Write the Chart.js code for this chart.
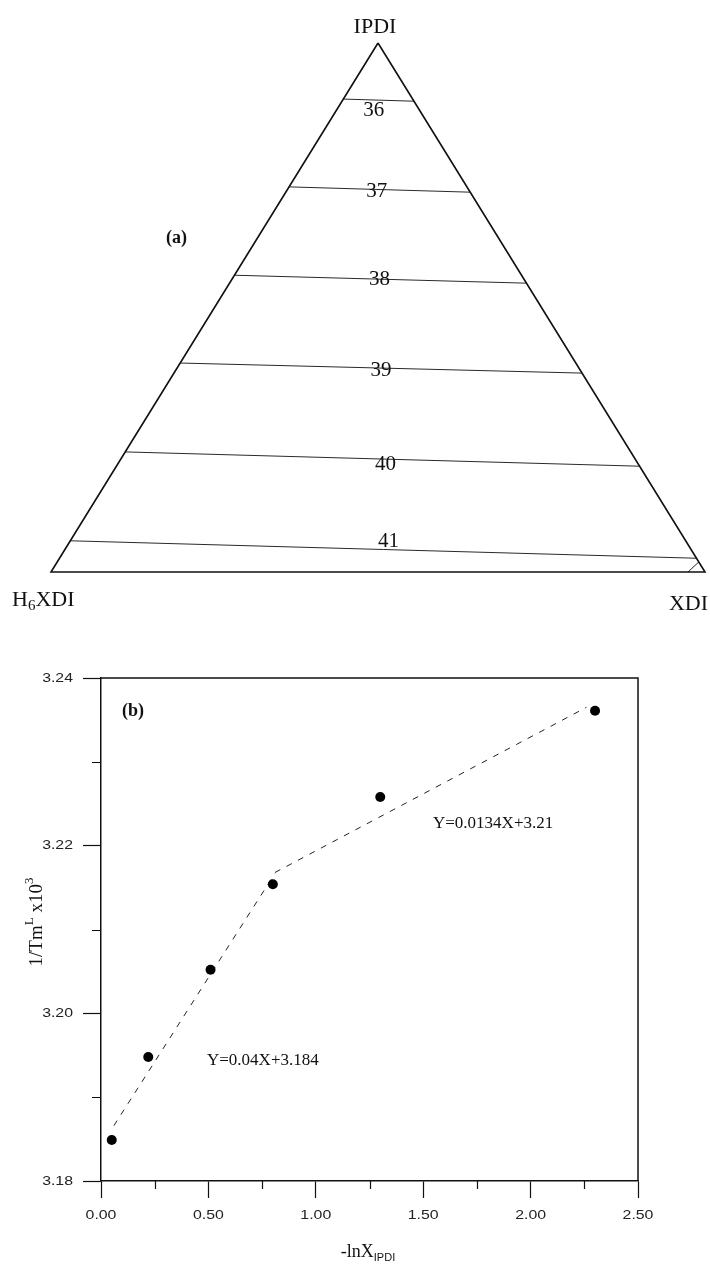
<!DOCTYPE html>
<html>
<head>
<meta charset="utf-8">
<script src="https://cdn.jsdelivr.net/npm/chart.js@4.4.0/dist/chart.umd.min.js"></script>
<style>
  html, body { margin: 0; padding: 0; background: #fff; }
  #wrap { position: relative; width: 710px; height: 1264px; overflow: hidden; }
  #ternary { position: absolute; left: 0; top: 0; }
  #fit { position: absolute; left: 0; top: 640px; }
</style>
</head>
<body>
<div id="wrap">
  <canvas id="ternary" width="710" height="640"></canvas>
  <canvas id="fit" width="710" height="624"></canvas>
</div>
<script>
// (a) isotherms in the ternary plot: IPDI fraction where each line meets
// the H6XDI-IPDI edge (left) and the IPDI-XDI edge (right)
const isoTemps = [36, 37, 38, 39, 40, 41];
const isoIpdiLeft = [0.894, 0.728, 0.561, 0.395, 0.227, 0.059];
const isoIpdiRight = [0.890, 0.718, 0.546, 0.376, 0.200, 0.026];
// small unlabeled piece in the XDI corner
const cornerXdi = 0.974;
const cornerIpdi = 0.019;

// (b) 1/Tm x10^3 against -ln X(IPDI)
const lnX = [0.05, 0.22, 0.51, 0.80, 1.30, 2.30];
const invTm = [3.1849, 3.1948, 3.2052, 3.2154, 3.2258, 3.2361];
const fit1X = [0.06, 0.81];
const fit1Y = [3.1866, 3.2167];
const fit2X = [0.81, 2.26];
const fit2Y = [3.2168, 3.2365];
const fit1Text = 'Y=0.04X+3.184';
const fit2Text = 'Y=0.0134X+3.21';
const xTicks = [0, 0.5, 1, 1.5, 2, 2.5];
const xMinor = [0.25, 0.75, 1.25, 1.75, 2.25];
const yTicks = [3.18, 3.20, 3.22, 3.24];
const yMinor = [3.19, 3.21, 3.23];

const SERIF = '"Liberation Serif", "DejaVu Serif", serif';
const SANS = '"Liberation Sans", Arial, sans-serif';
const INK = '#111';

// IPDI at the apex, H6XDI bottom left, XDI bottom right
function tern(ipdi, xdi) {
  return { x: xdi + ipdi / 2, y: ipdi };
}

// draws a row of text pieces (for sub/superscripts), runs = [text, font, dy]
function drawRuns(ctx, runs, x, y, align) {
  let total = 0;
  const widths = runs.map((r) => {
    ctx.font = r[1];
    const w = ctx.measureText(r[0]).width;
    total += w;
    return w;
  });
  let cx = align === 'center' ? x - total / 2 : (align === 'right' ? x - total : x);
  ctx.textAlign = 'left';
  ctx.textBaseline = 'alphabetic';
  runs.forEach((r, i) => {
    ctx.font = r[1];
    ctx.fillText(r[0], cx, y + r[2]);
    cx += widths[i];
  });
}

// the scanned tick labels are wide and flat, so stretch them sideways
function wideText(ctx, text, x, y, align) {
  const k = 1.22;
  ctx.save();
  ctx.translate(x, y);
  ctx.scale(k, 1);
  ctx.textAlign = align;
  ctx.fillText(text, 0, 0);
  ctx.restore();
}

// ---------- (a) ternary ----------
const triangle = [tern(1, 0), tern(0, 0), tern(0, 1), tern(1, 0)];

const isoDatasets = isoTemps.map((t, i) => ({
  label: String(t),
  data: [tern(isoIpdiLeft[i], 0), tern(isoIpdiRight[i], 1 - isoIpdiRight[i])],
  borderColor: '#2a2a2a',
  borderWidth: 1,
  showLine: true,
  pointRadius: 0,
  clip: false
}));

// label nudges in px, so the numbers sit on the lines as printed
const isoLabelDx = [-5, -3, -1, 0, 3, 5];
const isoLabelDy = [10, 2, 0, 2, 5, -8];

const ternaryLabels = {
  id: 'ternaryLabels',
  afterDraw(chart) {
    const ctx = chart.ctx;
    const xs = chart.scales.x;
    const ys = chart.scales.y;
    ctx.save();
    ctx.fillStyle = INK;

    isoTemps.forEach((t, i) => {
      const a = tern(isoIpdiLeft[i], 0);
      const b = tern(isoIpdiRight[i], 1 - isoIpdiRight[i]);
      const px = (xs.getPixelForValue(a.x) + xs.getPixelForValue(b.x)) / 2;
      const py = (ys.getPixelForValue(a.y) + ys.getPixelForValue(b.y)) / 2;
      ctx.font = `21px ${SERIF}`;
      ctx.textAlign = 'center';
      ctx.textBaseline = 'middle';
      ctx.fillText(String(t), px + isoLabelDx[i], py + isoLabelDy[i]);
    });

    const apex = tern(1, 0);
    ctx.font = `22px ${SERIF}`;
    ctx.textAlign = 'center';
    ctx.textBaseline = 'alphabetic';
    ctx.fillText('IPDI', xs.getPixelForValue(apex.x) - 3, 33);

    drawRuns(ctx, [['H', `22px ${SERIF}`, 0], ['6', `15px ${SERIF}`, 4], ['XDI', `22px ${SERIF}`, 0]], 12, 606, 'left');
    drawRuns(ctx, [['XDI', `22px ${SERIF}`, 0]], 708, 610, 'right');

    ctx.font = `bold 18px ${SERIF}`;
    ctx.textAlign = 'left';
    ctx.fillText('(a)', 166, 243);
    ctx.restore();
  }
};

new Chart(document.getElementById('ternary'), {
  type: 'scatter',
  data: {
    datasets: [
      {
        label: 'frame',
        data: triangle,
        borderColor: INK,
        borderWidth: 1.6,
        showLine: true,
        pointRadius: 0,
        clip: false
      },
      ...isoDatasets,
      {
        label: 'corner',
        data: [tern(0, cornerXdi), tern(cornerIpdi, 1 - cornerIpdi)],
        borderColor: '#2a2a2a',
        borderWidth: 1,
        showLine: true,
        pointRadius: 0,
        clip: false
      }
    ]
  },
  options: {
    responsive: false,
    animation: false,
    events: [],
    layout: { padding: { left: 51, right: 5, top: 43, bottom: 68 } },
    plugins: { legend: { display: false }, tooltip: { enabled: false } },
    scales: {
      x: { type: 'linear', min: 0, max: 1, display: false },
      y: { type: 'linear', min: 0, max: 1, display: false }
    }
  },
  plugins: [ternaryLabels]
});

// ---------- (b) fit plot ----------
const fitExtras = {
  id: 'fitExtras',
  afterDraw(chart) {
    const ctx = chart.ctx;
    const area = chart.chartArea;
    const xs = chart.scales.x;
    const ys = chart.scales.y;
    ctx.save();
    ctx.strokeStyle = INK;

    // top and right sides of the box
    ctx.lineWidth = 1.5;
    ctx.beginPath();
    ctx.moveTo(area.left, area.top);
    ctx.lineTo(area.right, area.top);
    ctx.lineTo(area.right, area.bottom);
    ctx.stroke();

    // minor ticks
    ctx.lineWidth = 1.2;
    ctx.beginPath();
    xMinor.forEach((v) => {
      const px = Math.round(xs.getPixelForValue(v)) + 0.5;
      ctx.moveTo(px, area.bottom);
      ctx.lineTo(px, area.bottom + 8);
    });
    yMinor.forEach((v) => {
      const py = Math.round(ys.getPixelForValue(v)) + 0.5;
      ctx.moveTo(area.left, py);
      ctx.lineTo(area.left - 9, py);
    });
    ctx.stroke();

    // tick labels from the scales' own ticks
    ctx.fillStyle = '#222';
    ctx.font = `13px ${SANS}`;
    ctx.textBaseline = 'middle';
    xs.ticks.forEach((t) => {
      wideText(ctx, t.value.toFixed(2), xs.getPixelForValue(t.value), area.bottom + 34, 'center');
    });
    ys.ticks.forEach((t) => {
      wideText(ctx, t.value.toFixed(2), 73, ys.getPixelForValue(t.value), 'right');
    });

    ctx.fillStyle = INK;
    ctx.font = `bold 18px ${SERIF}`;
    ctx.textAlign = 'left';
    ctx.textBaseline = 'alphabetic';
    ctx.fillText('(b)', 122, 76);

    ctx.font = `17px ${SERIF}`;
    ctx.fillText(fit2Text, 433, 188);
    ctx.fillText(fit1Text, 207, 425);

    // axis titles
    drawRuns(ctx, [['-lnX', `18px ${SERIF}`, 0], ['IPDI', `11px ${SANS}`, 4]], 368, 617, 'center');

    ctx.save();
    ctx.translate(42, 282);
    ctx.rotate(-Math.PI / 2);
    drawRuns(ctx, [['1/Tm', `19px ${SERIF}`, 0], ['L', `13px ${SERIF}`, -9],
      [' x10', `19px ${SERIF}`, 0], ['3', `13px ${SERIF}`, -9]], 0, 0, 'center');
    ctx.restore();

    ctx.restore();
  }
};

new Chart(document.getElementById('fit'), {
  type: 'scatter',
  data: {
    datasets: [
      {
        label: 'measured',
        data: lnX.map((x, i) => ({ x, y: invTm[i] })),
        pointRadius: 5,
        pointBackgroundColor: '#000',
        pointBorderWidth: 0,
        showLine: false
      },
      {
        label: 'fit 1',
        data: fit1X.map((x, i) => ({ x, y: fit1Y[i] })),
        borderColor: '#222',
        borderWidth: 1,
        borderDash: [6, 7],
        showLine: true,
        pointRadius: 0
      },
      {
        label: 'fit 2',
        data: fit2X.map((x, i) => ({ x, y: fit2Y[i] })),
        borderColor: '#222',
        borderWidth: 1,
        borderDash: [6, 7],
        showLine: true,
        pointRadius: 0
      }
    ]
  },
  options: {
    responsive: false,
    animation: false,
    events: [],
    layout: { padding: { left: 0, right: 72, top: 38, bottom: 23 } },
    plugins: { legend: { display: false }, tooltip: { enabled: false } },
    scales: {
      x: {
        type: 'linear',
        position: 'bottom',
        min: 0,
        max: 2.5,
        afterBuildTicks: (scale) => { scale.ticks = xTicks.map((v) => ({ value: v })); },
        afterFit: (scale) => { scale.height = 60; },
        grid: { drawOnChartArea: false, tickLength: 17, tickColor: INK, tickWidth: 1.2 },
        border: { display: true, color: INK, width: 1.5 },
        ticks: { display: false, autoSkip: false }
      },
      y: {
        type: 'linear',
        position: 'left',
        min: 3.18,
        max: 3.24,
        afterBuildTicks: (scale) => { scale.ticks = yTicks.map((v) => ({ value: v })); },
        afterFit: (scale) => { scale.width = 101; },
        grid: { drawOnChartArea: false, tickLength: 18, tickColor: INK, tickWidth: 1.2 },
        border: { display: true, color: INK, width: 1.5 },
        ticks: { display: false, autoSkip: false }
      }
    }
  },
  plugins: [fitExtras]
});
</script>
</body>
</html>
